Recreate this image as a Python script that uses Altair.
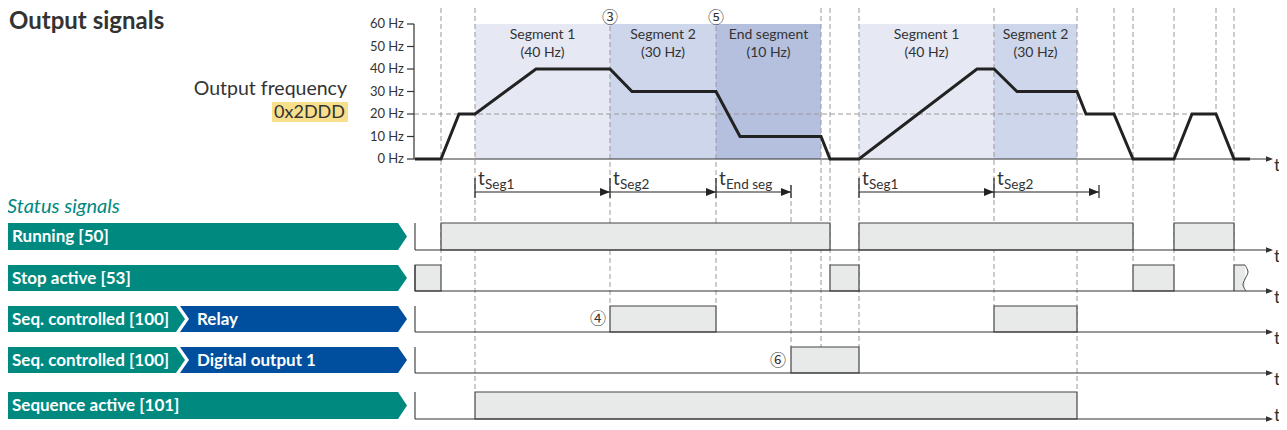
import altair as alt
import pandas as pd

# ---------------- data (times, frequencies in Hz) ----------------
freq_time = [415, 441, 459, 475, 536, 610, 632, 716, 740, 821, 830, 859, 977, 994,
             1017, 1077, 1086, 1114, 1133, 1174, 1192, 1216, 1234, 1250]
freq_hz = [0, 0, 20, 20, 40, 40, 30, 30, 10, 10, 0, 0, 40, 40,
           30, 30, 20, 20, 0, 0, 20, 20, 0, 0]

seg_name = ["Segment 1", "Segment 2", "End segment", "Segment 1", "Segment 2"]
seg_setpoint = ["(40 Hz)", "(30 Hz)", "(10 Hz)", "(40 Hz)", "(30 Hz)"]
seg_from = [475, 610, 716, 859, 994]
seg_to = [610, 716, 821, 994, 1077]

hz_ticks = [0, 10, 20, 30, 40, 50, 60]
hz_labels = ["0 Hz", "10 Hz", "20 Hz", "30 Hz", "40 Hz", "50 Hz", "60 Hz"]
ref_hz = 20

timer_sub = ["Seg1", "Seg2", "End seg", "Seg1", "Seg2"]
timer_from = [475, 610, 716, 859, 994]
timer_to = [610, 716, 791, 994, 1099]

event_time = [441, 475, 610, 716, 791, 821, 830, 859, 994, 1077, 1114, 1133, 1174, 1216, 1234]

signal_name = ["Running [50]", "Stop active [53]", "Seq. controlled [100]",
               "Seq. controlled [100]", "Sequence active [101]"]
signal_target = ["", "", "Relay", "Digital output 1", ""]
signal_on_from = [[441, 859, 1174], [415, 830, 1133], [610, 994], [791], [475]]
signal_on_to = [[830, 1133, 1234], [441, 859, 1174], [716, 1077], [859], [1077]]
stop_open_from = 1234  # stop active again, continues past the end

marker_text = ["③", "⑤", "④", "⑥"]
marker_time = [610, 716, 598, 778]

# ---------------- layout ----------------
T_START, T_END = 415, 1266
ROW_TOP = [223, 265, 306, 347, 392]
ROW_BASE = [250, 291, 332, 373, 419]
AX_PX = 159            # pixel row of the 0 Hz axis
PX_PER_HZ = 2.25
FONT = "Lato"
TEAL = "#00897f"
BLUE = "#004f9f"
INK = "#333333"
BOX_FILL = "#e8eae9"
BOX_LINE = "#454545"
DASH = "#9a9a9a"

XS = alt.Scale(domain=[8, 1279], nice=False, zero=False)
PX = alt.Scale(domain=[8, 422], reverse=True, nice=False, zero=False)
HZ = alt.Scale(domain=[-(422 - AX_PX) / PX_PER_HZ, (AX_PX - 8) / PX_PER_HZ], nice=False, zero=False)


def X(f):
    return alt.X(f"{f}:Q", scale=XS, axis=None)


def Yp(f):
    return alt.Y(f"{f}:Q", scale=PX, axis=None)


def Yh(f):
    return alt.Y(f"{f}:Q", scale=HZ, axis=None)


HEAD_SHAPE = "M0,0 L-1,-0.4 L-1,0.4 Z"

# ---------------- Hz layers (bottom) ----------------
df_seg = pd.DataFrame({"a": seg_from, "b": seg_to, "kind": seg_name,
                       "lo": 0, "hi": hz_ticks[-1]})
shade = alt.Chart(df_seg).mark_rect(strokeWidth=0).encode(
    x=X("a"), x2="b", y=Yh("lo"), y2="hi",
    color=alt.Color("kind:N", legend=None,
                    scale=alt.Scale(domain=["Segment 1", "Segment 2", "End segment"],
                                    range=["#e6e8f4", "#cdd6ea", "#b4c0de"])))
ref_line = alt.Chart(pd.DataFrame({"a": [414], "b": [1192], "f": [ref_hz]})).mark_rule(
    color=DASH, strokeDash=[5, 3], strokeWidth=1).encode(x=X("a"), x2="b", y=Yh("f"))
hz_bottom = alt.layer(shade, ref_line)

# ---------------- pixel layers ----------------
dash_top = {791: 185, 610: 26, 716: 26}
dash_bottom = {441: 265, 475: 392, 610: 306, 716: 306, 791: 347, 821: 347, 830: 265,
               859: 347, 994: 306, 1077: 392, 1114: 114, 1133: 265, 1174: 265,
               1216: 114, 1234: 265}
df_dash = pd.DataFrame({"t": event_time,
                        "top": [dash_top.get(t, 8) for t in event_time],
                        "bot": [dash_bottom[t] for t in event_time]})
dashes = alt.Chart(df_dash).mark_rule(color=DASH, strokeDash=[5, 3], strokeWidth=1).encode(
    x=X("t"), y=Yp("top"), y2="bot")

rows = []
for i in range(len(signal_name)):
    for a, b in zip(signal_on_from[i], signal_on_to[i]):
        rows.append({"a": a, "b": b, "top": ROW_TOP[i], "base": ROW_BASE[i]})
df_box = pd.DataFrame(rows)
boxes = alt.Chart(df_box).mark_rect(fill=BOX_FILL, stroke=BOX_LINE, strokeWidth=1.2).encode(
    x=X("a"), x2="b", y=Yp("top"), y2="base")

# open-ended stop box with wavy edge
st_top, st_base = ROW_TOP[1], ROW_BASE[1]
open_fill = alt.Chart(pd.DataFrame({"a": [stop_open_from], "b": [stop_open_from + 11],
                                    "top": [st_top], "base": [st_base]})).mark_rect(
    fill=BOX_FILL, strokeWidth=0).encode(x=X("a"), x2="b", y=Yp("top"), y2="base")
open_edge = alt.Chart(pd.DataFrame({
    "x": [stop_open_from, stop_open_from, stop_open_from + 11],
    "y": [st_base, st_top, st_top], "o": [0, 1, 2]})).mark_line(
    color=BOX_LINE, strokeWidth=1.2).encode(x=X("x"), y=Yp("y"), order="o:Q")
wave = alt.Chart(pd.DataFrame({
    "x": [stop_open_from + 11, stop_open_from + 14, stop_open_from + 11, stop_open_from + 9, stop_open_from + 12],
    "y": [st_top, st_top + 7, st_top + 14, st_top + 20, st_base], "o": [0, 1, 2, 3, 4]})).mark_line(
    color=BOX_LINE, strokeWidth=1, interpolate="cardinal").encode(x=X("x"), y=Yp("y"), order="o:Q")

# row start verticals and baselines
df_rows = pd.DataFrame({"top": ROW_TOP, "base": ROW_BASE, "x0": T_START})
row_start = alt.Chart(df_rows).mark_rule(color=BOX_LINE, strokeWidth=1.2).encode(
    x=X("x0"), y=Yp("top"), y2="base")
axes_y = [AX_PX] + ROW_BASE
df_axes = pd.DataFrame({"y": axes_y, "a": [414] + [T_START] * len(ROW_BASE), "b": T_END,
                        "tip": T_END + 7, "tx": T_END + 8, "ty": [y + 12 for y in axes_y], "t": "t"})
df_axes.loc[df_axes.index[-1], "ty"] = 421
baselines = alt.Chart(df_axes).mark_rule(color=INK, strokeWidth=1.2).encode(
    x=X("a"), x2="b", y=Yp("y"))
heads = alt.Chart(df_axes).mark_point(shape=HEAD_SHAPE, filled=True, size=196, opacity=1,
                                      color=INK, strokeWidth=0).encode(x=X("tip"), y=Yp("y"))
t_lbl = alt.Chart(df_axes).mark_text(font=FONT, fontSize=18, color=INK, align="left",
                                     baseline="alphabetic").encode(x=X("tx"), y=Yp("ty"), text="t:N")

# banners
poly = []
for i in range(len(signal_name)):
    top, base = ROW_TOP[i], ROW_BASE[i]
    mid = (top + base) / 2
    if signal_target[i]:
        poly += [{"id": f"t{i}", "k": "teal", "x": 6, "y": top, "y2": base},
                 {"id": f"t{i}", "k": "teal", "x": 176, "y": top, "y2": base},
                 {"id": f"t{i}", "k": "teal", "x": 185, "y": mid, "y2": mid},
                 {"id": f"b{i}", "k": "blue", "x": 180, "y": top, "y2": base},
                 {"id": f"b{i}", "k": "blue", "x": 398, "y": top, "y2": base},
                 {"id": f"b{i}", "k": "blue", "x": 407, "y": mid, "y2": mid},
                 {"id": f"w{i}", "k": "white", "x": 180, "y": top, "y2": base},
                 {"id": f"w{i}", "k": "white", "x": 189, "y": mid, "y2": mid}]
    else:
        poly += [{"id": f"t{i}", "k": "teal", "x": 6, "y": top, "y2": base},
                 {"id": f"t{i}", "k": "teal", "x": 398, "y": top, "y2": base},
                 {"id": f"t{i}", "k": "teal", "x": 407, "y": mid, "y2": mid}]
df_poly = pd.DataFrame(poly)


def banner_layer(kind, col):
    return alt.Chart(df_poly).transform_filter(alt.datum.k == kind).mark_area(
        color=col, opacity=1, interpolate="linear").encode(
        x=X("x"), y=alt.Y("y:Q", scale=PX, axis=None, stack=None), y2="y2", detail="id:N")


banners = alt.layer(banner_layer("blue", BLUE), banner_layer("white", "#ffffff"),
                    banner_layer("teal", TEAL))

df_names = pd.DataFrame({"x": 12, "y": [(a + b) / 2 + 0.5 for a, b in zip(ROW_TOP, ROW_BASE)],
                         "text": signal_name})
names = alt.Chart(df_names).mark_text(font=FONT, fontSize=17, fontWeight="bold", color="white",
                                      align="left", baseline="middle").encode(
    x=X("x"), y=Yp("y"), text="text:N")
df_tg = pd.DataFrame({"x": 197, "y": [(a + b) / 2 + 0.5 for a, b in zip(ROW_TOP, ROW_BASE)],
                      "text": signal_target})
df_tg = df_tg[df_tg.text != ""]
targets = alt.Chart(df_tg).mark_text(font=FONT, fontSize=17, fontWeight="bold", color="white",
                                     align="left", baseline="middle").encode(
    x=X("x"), y=Yp("y"), text="text:N")

# timers
TIMER_Y = 192
df_tm = pd.DataFrame({"a": timer_from, "b": timer_to, "sub": timer_sub, "y": TIMER_Y,
                      "t": "t", "tx": [a + 3 for a in timer_from], "sx": [a + 10 for a in timer_from],
                      "ty": 185, "sy": 189, "k0": 178, "k1": 198})
tm_line = alt.Chart(df_tm).mark_rule(color="#222", strokeWidth=1.2).encode(
    x=X("a"), x2="b", y=Yp("y"))
tm_head = alt.Chart(df_tm).mark_point(shape=HEAD_SHAPE, filled=True, size=400, opacity=1,
                                      color="#222", strokeWidth=0).encode(x=X("b"), y=Yp("y"))
tm_start = alt.Chart(df_tm).mark_rule(color="#222", strokeWidth=1.2).encode(
    x=X("a"), y=Yp("k0"), y2="k1")
df_end = pd.DataFrame({"b": [b for b in timer_to if b not in timer_from], "k0": 185, "k1": 198})
tm_end = alt.Chart(df_end).mark_rule(color="#222", strokeWidth=1.2).encode(
    x=X("b"), y=Yp("k0"), y2="k1")
tm_t = alt.Chart(df_tm).mark_text(font=FONT, fontSize=19, color=INK, align="left",
                                  baseline="alphabetic").encode(x=X("tx"), y=Yp("ty"), text="t:N")
tm_s = alt.Chart(df_tm).mark_text(font=FONT, fontSize=13.5, color=INK, align="left",
                                  baseline="alphabetic").encode(x=X("sx"), y=Yp("sy"), text="sub:N")

# circled markers
df_mk = pd.DataFrame({"x": marker_time, "y": [18, 18, 319, 361], "text": marker_text})
markers = alt.Chart(df_mk).mark_text(font="Noto Sans CJK JP", fontSize=16, color=INK,
                                     baseline="middle").encode(x=X("x"), y=Yp("y"), text="text:N")

# segment captions
df_sl = pd.DataFrame({"x": [(a + b) / 2 for a, b in zip(seg_from, seg_to)],
                      "y1": 35, "y2": 53, "n": seg_name, "s": seg_setpoint})
seg_l1 = alt.Chart(df_sl).mark_text(font=FONT, fontSize=14, color=INK, baseline="middle").encode(
    x=X("x"), y=Yp("y1"), text="n:N")
seg_l2 = alt.Chart(df_sl).mark_text(font=FONT, fontSize=14, color=INK, baseline="middle").encode(
    x=X("x"), y=Yp("y2"), text="s:N")

# titles
title = alt.Chart(pd.DataFrame({"x": [9], "y": [29], "t": ["Output signals"]})).mark_text(
    font=FONT, fontSize=24, fontWeight="bold", color=INK, align="left", baseline="alphabetic").encode(
    x=X("x"), y=Yp("y"), text="t:N")
status = alt.Chart(pd.DataFrame({"x": [7], "y": [213], "t": ["Status signals"]})).mark_text(
    font=FONT, fontSize=20, fontStyle="italic", color=TEAL, align="left", baseline="alphabetic").encode(
    x=X("x"), y=Yp("y"), text="t:N")
hl = alt.Chart(pd.DataFrame({"a": [272], "b": [348], "top": [102], "bot": [122]})).mark_rect(
    fill="#f7df8c").encode(x=X("a"), x2="b", y=Yp("top"), y2="bot")
ylab1 = alt.Chart(pd.DataFrame({"x": [347], "y": [95], "t": ["Output frequency"]})).mark_text(
    font=FONT, fontSize=19.5, color=INK, align="right", baseline="alphabetic").encode(
    x=X("x"), y=Yp("y"), text="t:N")
ylab2 = alt.Chart(pd.DataFrame({"x": [345], "y": [118], "t": ["0x2DDD"]})).mark_text(
    font=FONT, fontSize=18, color=INK, align="right", baseline="alphabetic").encode(
    x=X("x"), y=Yp("y"), text="t:N")

px_layer = alt.layer(dashes, boxes, open_fill, open_edge, wave, row_start, baselines, heads, t_lbl,
                     banners, names, targets, tm_line, tm_head, tm_start, tm_end, tm_t, tm_s,
                     markers, seg_l1, seg_l2, title, status, hl, ylab1, ylab2)

# ---------------- Hz layers (top) ----------------
hz_axis = alt.Chart(pd.DataFrame({"x": [414], "lo": [0], "hi": [hz_ticks[-1]]})).mark_rule(
    color=INK, strokeWidth=1.2).encode(x=X("x"), y=Yh("lo"), y2="hi")
df_ticks = pd.DataFrame({"f": hz_ticks, "lab": hz_labels, "a": 407, "b": 414, "lx": 404})
hz_tick = alt.Chart(df_ticks).mark_rule(color=INK, strokeWidth=1.2).encode(
    x=X("a"), x2="b", y=Yh("f"))
hz_text = alt.Chart(df_ticks).mark_text(font=FONT, fontSize=13, color=INK, align="right",
                                        baseline="middle").encode(x=X("lx"), y=Yh("f"), text="lab:N")
df_freq = pd.DataFrame({"t": freq_time, "f": freq_hz, "o": range(len(freq_time))})
freq = alt.Chart(df_freq).mark_line(color="#222222", strokeWidth=3, strokeJoin="miter").encode(
    x=X("t"), y=Yh("f"), order="o:Q")
hz_top = alt.layer(hz_axis, hz_tick, hz_text, freq)

chart = alt.layer(hz_bottom, px_layer, hz_top).resolve_scale(y="independent").properties(
    width=1271, height=414, padding=0, autosize=alt.AutoSizeParams(type="none")
).configure_view(stroke=None)

chart.save("out.html", embed_options={"renderer": "svg", "actions": False})
